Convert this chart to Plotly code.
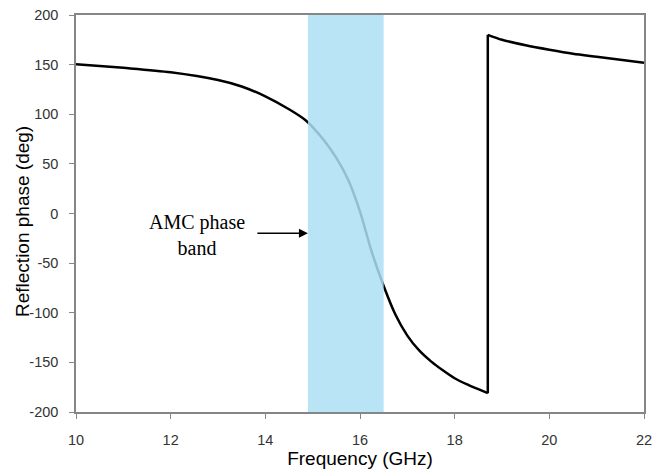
import plotly.graph_objects as go

# lower branch (before the phase wrap) and upper branch (after it)
freq_low = [10, 11, 12, 13, 13.5, 14, 14.5, 14.85, 15.0, 15.25, 15.5, 15.75, 16.0, 16.25,
            16.5, 16.75, 17.0, 17.25, 17.5, 17.75, 18.0, 18.25, 18.5, 18.7]
phase_low = [150.5, 146.8, 142.3, 134.5, 128, 118, 105, 94, 87, 73, 56, 34, 2, -39,
             -73, -102, -123, -138, -149, -158, -166, -172, -177, -181]
freq_high = [18.7, 19.0, 19.5, 20.0, 20.5, 21.0, 21.5, 22.0]
phase_high = [180, 175, 169.5, 165, 161, 158, 155, 152]

band_start = 14.9
band_end = 16.5
band_label = "AMC phase<br>band"

x_ticks = [10, 12, 14, 16, 18, 20, 22]
y_ticks = [200, 150, 100, 50, 0, -50, -100, -150, -200]
y_tick_text = ["200", "150", "100", "50", "0", "-50", "-100", "-150", "-200"]

line_style = dict(color="black", width=2.5)

fig = go.Figure()
fig.add_trace(go.Scatter(x=freq_low, y=phase_low, mode="lines",
                         line=dict(shape="spline", smoothing=0.8, **line_style), showlegend=False))
fig.add_trace(go.Scatter(x=[freq_low[-1], freq_high[0]], y=[phase_low[-1], phase_high[0]],
                         mode="lines", line=line_style, showlegend=False))
fig.add_trace(go.Scatter(x=freq_high, y=phase_high, mode="lines",
                         line=dict(shape="spline", smoothing=0.8, **line_style), showlegend=False))

fig.add_shape(type="rect", xref="x", yref="y", x0=band_start, x1=band_end, y0=-200, y1=200,
              fillcolor="rgb(172,223,243)", opacity=0.85, line=dict(width=0), layer="above")

fig.add_annotation(x=band_start, y=-20, ax=13.8, ay=-20, axref="x", ayref="y",
                   xref="x", yref="y", text="", showarrow=True,
                   arrowhead=2, arrowsize=1.2, arrowwidth=1.5, arrowcolor="black")
fig.add_annotation(x=12.55, y=-22, xref="x", yref="y", text=band_label, showarrow=False,
                   font=dict(family="Liberation Serif", size=20, color="black"))

# y axis title as a rotated annotation for exact placement
fig.add_annotation(x=0, y=0.5, xref="paper", yref="paper", xanchor="center", yanchor="middle",
                   xshift=-53.5, yshift=-8, textangle=-90, showarrow=False,
                   text="Reflection phase (deg)",
                   font=dict(family="Liberation Sans", size=19, color="black"))

axis_common = dict(showgrid=False, zeroline=False, showline=True, mirror=True,
                   linecolor="#868686", linewidth=1.5, ticks="outside", ticklen=5,
                   tickcolor="#868686", tickwidth=1, automargin=False,
                   tickfont=dict(family="Liberation Sans", size=14.5, color="#333333"))

fig.update_xaxes(range=[10, 22], tickvals=x_ticks, ticklabelstandoff=9,
                 title=dict(text="Frequency (GHz)",
                            font=dict(family="Liberation Sans", size=19, color="black"), standoff=3),
                 **axis_common)
fig.update_yaxes(range=[-200, 200], tickvals=y_ticks, ticktext=y_tick_text, ticklabelstandoff=8,
                 **axis_common)

fig.update_layout(width=655, height=472, margin=dict(l=76, r=11, t=15, b=60),
                  plot_bgcolor="white", paper_bgcolor="white")

fig.write_html("out.html", config={"displayModeBar": False},
               post_script="document.body.style.margin='0';document.body.style.overflow='hidden';")
